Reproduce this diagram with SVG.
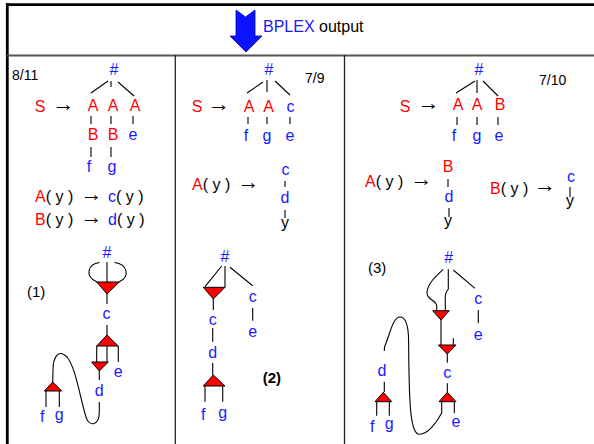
<svg xmlns="http://www.w3.org/2000/svg" width="594" height="444" viewBox="0 0 594 444">
<style>
text{font-family:"Liberation Sans",Arial,sans-serif;font-size:16px;fill:#000}
.m{text-anchor:middle}
.b{fill:#1a1aff}
.r{fill:#ff0000}
.n{font-size:14px}
.ar{font-family:"Liberation Sans","DejaVu Sans",sans-serif;font-size:22px;text-anchor:middle}
.ln{stroke:#000;stroke-width:1.1;fill:none}
.tri{fill:#ff0000;stroke:#000;stroke-width:1}
.frame{stroke:#000;fill:none}
</style>
<rect width="594" height="444" fill="#fff"/>
<g id="frame">
<line class="frame" x1="6" y1="4.7" x2="594" y2="4.7" stroke-width="2.8"/>
<line class="frame" x1="7.3" y1="3.3" x2="7.3" y2="444" stroke-width="2.8"/>
<line x1="7" y1="55.5" x2="594" y2="55.5" stroke="#555" stroke-width="1.8"/>
<line x1="175.3" y1="55" x2="175.3" y2="444" stroke="#222" stroke-width="1.3"/>
<line x1="344.5" y1="55" x2="344.5" y2="444" stroke="#222" stroke-width="1.3"/>
</g>
<g id="header">
<polygon points="236,10 245.5,17 255,10 255,36 262,36 246,52 230,36 236,36" fill="#0a14ff" stroke="#0000b0" stroke-width="0.8"/>
<text x="263" y="32"><tspan class="b">BPLEX</tspan> output</text>
</g>
<g id="connectors">
<path class="ln" d="M108,81 L91,93 M111,81 L111,87 M118,82 L134,96 M91,116 L91,124 M111,116 L111,124 M133,116 L133,124 M91,147 L91,157 M111,147 L111,157"/>
<path class="ln" d="M263,82 L247,93 M267,80 L267,92 M275,81 L290,95 M248,117 L248,124 M267,117 L267,124 M290,117 L290,124 M285,181 L285,187 M285,210 L285,218"/>
<path class="ln" d="M475,81 L456,93 M477,80 L477,93 M483,81 L498,96 M457,117 L457,125 M477,117 L477,125 M498,117 L498,125 M448,179 L448,187 M449,208 L449,217 M570,187 L570,197"/>
<path class="ln" d="M107,262 L107,282 M99.5,262.5 C88,264 84,276 97,282 M114.5,262.5 C127,264 131,276 119,282 M107,294 L107,304 M107,325 L107,335 M96.7,346 L96.7,362 M107,346 L107,362 M118.3,346 L118.3,362 M99.3,371 L99.3,380 M46,391 L46,407 M59.3,391 L59.3,407"/>
<path class="ln" d="M99.3,402 L99.3,412 C99.3,426 89,427 86,417 C80,398 76,368 67,357 C58,348 53,358 53,370 L52.7,382"/>
<path class="ln" d="M221.7,266 L205,286.7 M225,266 L225,287.3 M230,267.3 L252.7,285.7 M213.3,299 L213.3,310 M212.7,328 L212.7,341.7 M212.7,363 L212.7,375 M205,386 L205,401.7 M222.7,386 L222.7,401.7 M252.7,308 L252.7,320.7"/>
<path class="ln" d="M443.3,269.3 C436,276 428,283 427,292 C426,300 437,300 436.7,306 L436.7,310.7 M448.3,269.3 L448.3,289 Q445,293 445.3,298 L445.3,310.7 M453.3,270 L475,288.3 M478.3,310 L478.3,323.3 M441,320 L441,345 M453.3,338.3 L453.3,345 M447.3,354 L447.3,362.7 M447.3,383.3 L447.3,392.3 M454.3,401.7 L454.3,413.3 M384.3,381.7 L384.3,392 M376.7,401.7 L376.7,415.7 M389.3,401.7 L389.3,415.7"/>
<path class="ln" d="M441.7,401.7 L441.7,413 C437,422 427,436 418,434 C410,431 409,400 408.6,340 C408.3,323 405,317 400,317 C393,317 390,334 384.5,347 L384.3,351"/>
</g>
<g id="panel1">
<text x="12" y="80" class="n">8/11</text>
<text x="114" y="75" class="m b">#</text>
<text x="40" y="112" class="m r">S</text>
<text x="63.5" y="111" class="ar">→</text>
<text x="93" y="111" class="m r">A</text>
<text x="113" y="111" class="m r">A</text>
<text x="135" y="111" class="m r">A</text>
<text x="93" y="140" class="m r">B</text>
<text x="113" y="140" class="m r">B</text>
<text x="133" y="140" class="m b">e</text>
<text x="89" y="172" class="m b">f</text>
<text x="112" y="172" class="m b">g</text>
<text x="35" y="202"><tspan class="r">A</tspan>( y )</text>
<text x="91.5" y="201" class="ar">→</text>
<text x="108" y="202"><tspan class="b">c</tspan>( y )</text>
<text x="35" y="225"><tspan class="r">B</tspan>( y )</text>
<text x="91.5" y="224" class="ar">→</text>
<text x="108" y="225"><tspan class="b">d</tspan>( y )</text>
</g>
<g id="panel2">
<text x="305" y="83" class="n">7/9</text>
<text x="269" y="75" class="m b">#</text>
<text x="197" y="112" class="m r">S</text>
<text x="219" y="111" class="ar">→</text>
<text x="249" y="112" class="m r">A</text>
<text x="268.5" y="112" class="m r">A</text>
<text x="290.5" y="112" class="m b">c</text>
<text x="246" y="141" class="m b">f</text>
<text x="267" y="141" class="m b">g</text>
<text x="290" y="141" class="m b">e</text>
<text x="192" y="190"><tspan class="r">A</tspan>( y )</text>
<text x="248.5" y="189" class="ar">→</text>
<text x="285.5" y="175" class="m b">c</text>
<text x="285" y="203" class="m b">d</text>
<text x="285" y="228" class="m">y</text>
</g>
<g id="panel3">
<text x="539" y="85" class="n">7/10</text>
<text x="479" y="75" class="m b">#</text>
<text x="405" y="112" class="m r">S</text>
<text x="428.5" y="110" class="ar">→</text>
<text x="458" y="110" class="m r">A</text>
<text x="477" y="110" class="m r">A</text>
<text x="500" y="110" class="m r">B</text>
<text x="454" y="141" class="m b">f</text>
<text x="477" y="141" class="m b">g</text>
<text x="499" y="141" class="m b">e</text>
<text x="365" y="187"><tspan class="r">A</tspan>( y )</text>
<text x="421.5" y="186" class="ar">→</text>
<text x="448" y="172" class="m r">B</text>
<text x="449" y="202" class="m b">d</text>
<text x="448" y="226" class="m">y</text>
<text x="490" y="194"><tspan class="r">B</tspan>( y )</text>
<text x="545" y="192" class="ar">→</text>
<text x="571" y="182" class="m b">c</text>
<text x="570" y="206" class="m">y</text>
</g>
<g id="graph1">
<text x="27" y="297" style="font-size:15px">(1)</text>
<text x="107" y="258" class="m b">#</text>
<polygon class="tri" points="96.7,282 119.3,282 107,294"/>
<text x="106.5" y="319" class="m b">c</text>
<polygon class="tri" points="107,335 118.3,346 96.7,346"/>
<polygon class="tri" points="91.7,362 108.3,362 99.3,371"/>
<text x="118.3" y="377" class="m b">e</text>
<text x="99.3" y="396" class="m b">d</text>
<polygon class="tri" points="52.7,382 61.7,391 44.3,391"/>
<text x="42.3" y="422" class="m b">f</text>
<text x="59.3" y="420" class="m b">g</text>
</g>
<g id="graph2">
<text x="225" y="261.7" class="m b">#</text>
<polygon class="tri" points="203.3,287.3 225,287.3 213.3,299"/>
<text x="212.7" y="325" class="m b">c</text>
<text x="212.7" y="358" class="m b">d</text>
<polygon class="tri" points="213.3,375 225,386 203.3,386"/>
<text x="203.3" y="420" class="m b">f</text>
<text x="222.7" y="418" class="m b">g</text>
<text x="252.7" y="301.7" class="m b">c</text>
<text x="252.7" y="337.3" class="m b">e</text>
<text x="262.7" y="383" style="font-size:15px;font-weight:bold">(2)</text>
</g>
<g id="graph3">
<text x="448.7" y="263.3" class="m b">#</text>
<text x="368" y="272.7" style="font-size:15px">(3)</text>
<text x="478.3" y="304" class="m b">c</text>
<text x="478.3" y="340" class="m b">e</text>
<polygon class="tri" points="432.7,310.7 449.3,310.7 441,320"/>
<polygon class="tri" points="438.3,345 456,345 447.3,354"/>
<text x="447.3" y="377.7" class="m b">c</text>
<polygon class="tri" points="447.3,392.3 456,401.7 439,401.7"/>
<text x="456" y="427.3" class="m b">e</text>
<text x="382" y="375.7" class="m b">d</text>
<polygon class="tri" points="383.3,392.3 391.7,401.7 375,401.7"/>
<text x="372.3" y="431.7" class="m b">f</text>
<text x="389.3" y="429" class="m b">g</text>
</g>
</svg>
